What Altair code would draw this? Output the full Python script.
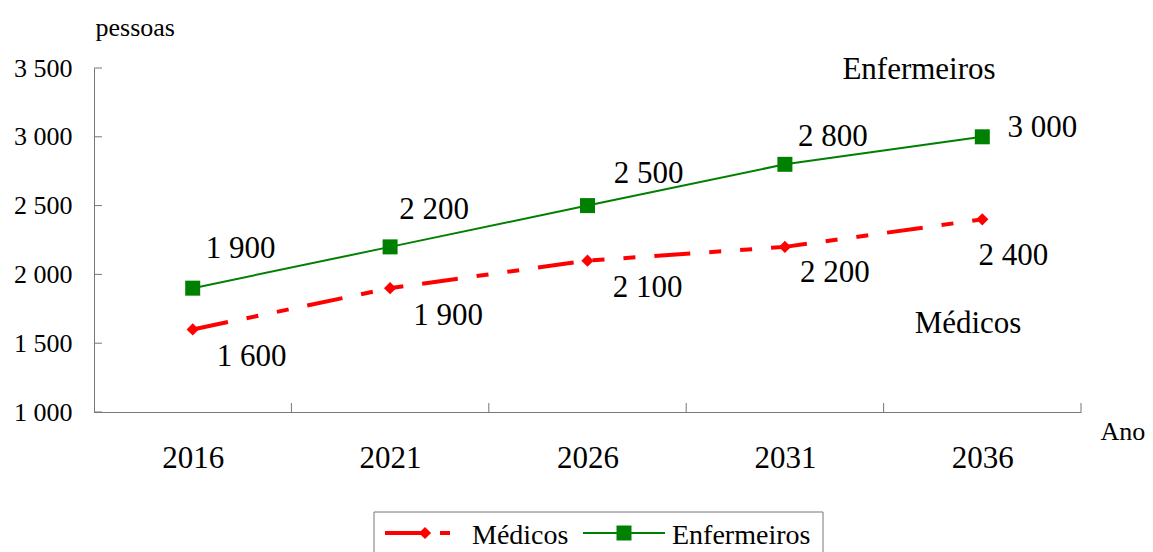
import altair as alt
import pandas as pd

# ---- data ----
years = [2016, 2021, 2026, 2031, 2036]
medicos = [1600, 1900, 2100, 2200, 2400]
enfermeiros = [1900, 2200, 2500, 2800, 3000]
y_ticks = [1000, 1500, 2000, 2500, 3000, 3500]
series_names = ["Médicos", "Enfermeiros"]

# ---- style ----
FONT = "Liberation Serif"
RED = "#FF0000"
GREEN = "#008000"
AXIS = "#777777"
W, H = 987, 344
# label offsets (dx, dy) in pixels, per point
med_offsets = [(59, 28), (58, 28), (60, 27), (50, 26), (31, 37)]
enf_offsets = [(48, -39), (44, -37), (61, -32), (48, -27), (60, -9)]


def fmt(v):
    return f"{v:,}".replace(",", " ")


step = years[1] - years[0]
x_domain = [years[0] - step / 2, years[-1] + step / 2]
boundaries = [y + step / 2 for y in years]

df_med = pd.DataFrame({"ano": years, "valor": medicos, "label": [fmt(v) for v in medicos]})
df_enf = pd.DataFrame({"ano": years, "valor": enfermeiros, "label": [fmt(v) for v in enfermeiros]})
df_yt = pd.DataFrame({"valor": y_ticks})
df_xt = pd.DataFrame({"ano": boundaries})
one = pd.DataFrame({"k": [0]})

xscale = alt.Scale(domain=x_domain, nice=False, zero=False)
yscale = alt.Scale(domain=[y_ticks[0], y_ticks[-1]], nice=False, zero=False)

xaxis = alt.Axis(
    values=years, format="d", ticks=False, grid=False,
    labelFontSize=31, labelPadding=46, labelBaseline="middle",
    title="Ano", titleAngle=0, titleAlign="left", titleBaseline="alphabetic",
    titleX=1006, titleY=27, titleFontSize=26, titleFontWeight="normal",
)
yaxis = alt.Axis(
    values=y_ticks, ticks=False, grid=False,
    labelExpr="replace(format(datum.value, ',d'), ',', ' ')",
    labelFontSize=26, labelPadding=22,
    title="pessoas", titleAngle=0, titleAlign="left", titleBaseline="alphabetic",
    titleX=1, titleY=-33, titleFontSize=26, titleFontWeight="normal",
)

X = alt.X("ano:Q", scale=xscale, axis=xaxis)
Y = alt.Y("valor:Q", scale=yscale, axis=yaxis)

layers = []

# inward ticks
layers.append(alt.Chart(df_yt).mark_rule(color=AXIS, strokeWidth=1).encode(
    y=Y, x=alt.value(0), x2=alt.value(8)))
layers.append(alt.Chart(df_xt).mark_rule(color=AXIS, strokeWidth=1).encode(
    x=X, y=alt.value(H), y2=alt.value(H - 9)))

# Médicos
layers.append(alt.Chart(df_med).mark_line(
    color=RED, strokeWidth=4, strokeDash=[36, 19, 12, 19, 12, 19]).encode(x=X, y=Y))
layers.append(alt.Chart(df_med).mark_point(
    shape="diamond", filled=True, size=150, color=RED, opacity=1).encode(x=X, y=Y))
# Enfermeiros
layers.append(alt.Chart(df_enf).mark_line(color=GREEN, strokeWidth=2).encode(x=X, y=Y))
layers.append(alt.Chart(df_enf).mark_point(
    shape="square", filled=True, size=225, color=GREEN, opacity=1).encode(x=X, y=Y))

# data labels
for i, yr in enumerate(years):
    dx, dy = med_offsets[i]
    layers.append(alt.Chart(df_med).transform_filter(alt.datum.ano == yr).mark_text(
        font=FONT, fontSize=31, color="black", dx=dx, dy=dy, align="center", baseline="middle"
    ).encode(x=X, y=Y, text="label:N"))
    dx, dy = enf_offsets[i]
    layers.append(alt.Chart(df_enf).transform_filter(alt.datum.ano == yr).mark_text(
        font=FONT, fontSize=31, color="black", dx=dx, dy=dy, align="center", baseline="middle"
    ).encode(x=X, y=Y, text="label:N"))

# series annotations
layers.append(alt.Chart(one).mark_text(
    font=FONT, fontSize=31, color="black", align="center", baseline="alphabetic", text=series_names[1]
).encode(x=alt.value(825), y=alt.value(11)))
layers.append(alt.Chart(one).mark_text(
    font=FONT, fontSize=31, color="black", align="center", baseline="alphabetic", text=series_names[0]
).encode(x=alt.value(874), y=alt.value(265)))

# manual legend
LY = 465
layers.append(alt.Chart(one).mark_rect(filled=False, stroke=AXIS, strokeWidth=1).encode(
    x=alt.value(280), x2=alt.value(729), y=alt.value(444), y2=alt.value(500)))
layers.append(alt.Chart(one).mark_rule(color=RED, strokeWidth=4).encode(
    x=alt.value(291), x2=alt.value(328), y=alt.value(LY)))
layers.append(alt.Chart(one).mark_rule(color=RED, strokeWidth=4).encode(
    x=alt.value(346), x2=alt.value(356), y=alt.value(LY)))
layers.append(alt.Chart(one).mark_point(shape="diamond", filled=True, size=150, color=RED, opacity=1).encode(
    x=alt.value(331), y=alt.value(LY)))
layers.append(alt.Chart(one).mark_text(
    font=FONT, fontSize=28, color="black", align="left", baseline="middle", text=series_names[0]
).encode(x=alt.value(378), y=alt.value(468)))
layers.append(alt.Chart(one).mark_rule(color=GREEN, strokeWidth=2).encode(
    x=alt.value(489), x2=alt.value(571), y=alt.value(LY)))
layers.append(alt.Chart(one).mark_point(shape="square", filled=True, size=225, color=GREEN, opacity=1).encode(
    x=alt.value(530), y=alt.value(LY)))
layers.append(alt.Chart(one).mark_text(
    font=FONT, fontSize=28, color="black", align="left", baseline="middle", text=series_names[1]
).encode(x=alt.value(578), y=alt.value(468)))

chart = alt.layer(*layers).properties(
    width=W, height=H,
    autosize=alt.AutoSizeParams(type="none"),
    padding={"left": 86, "top": 60, "right": 64, "bottom": 140},
).configure_view(stroke=None).configure_axis(
    domainColor=AXIS, domainWidth=1, labelColor="black", titleColor="black",
    labelFont=FONT, titleFont=FONT,
)

chart.save("out.html", embed_options={"renderer": "svg", "actions": False})
